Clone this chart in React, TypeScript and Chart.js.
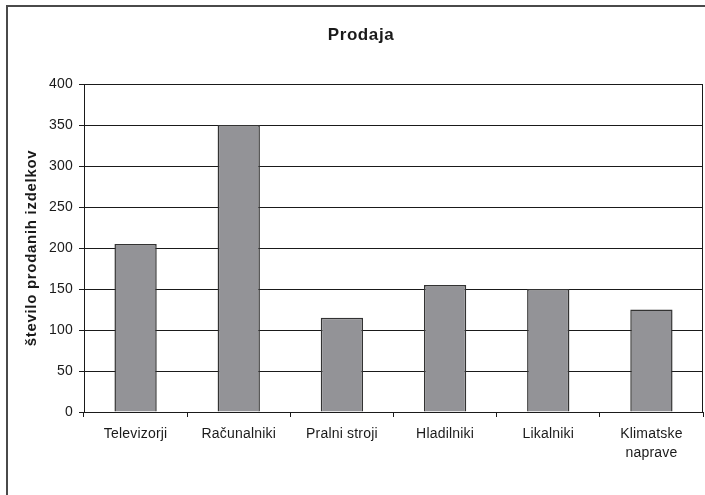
import React, { useEffect, useRef } from "react";
import { Chart, registerables } from "chart.js";

Chart.register(...registerables);

const categories: (string | string[])[] = [
  "Televizorji",
  "Računalniki",
  "Pralni stroji",
  "Hladilniki",
  "Likalniki",
  ["Klimatske", "naprave"],
];
const sales: number[] = [205, 350, 115, 155, 150, 125];
const yTicks: number[] = [0, 50, 100, 150, 200, 250, 300, 350, 400];
const chartTitle = "Prodaja";
const yTitle = "število prodanih izdelkov";

const FONT = "'Liberation Sans', Arial, Helvetica, sans-serif";

const spacingPlugin = {
  id: "spacing",
  beforeLayout(chart: any) {
    chart.ctx.letterSpacing = "0.2px";
  },
  beforeDraw(chart: any) {
    chart.ctx.letterSpacing = "0.2px";
  },
};

const decorPlugin = {
  id: "decor",
  beforeDraw(chart: any) {
    const ctx = chart.ctx;
    ctx.save();
    ctx.fillStyle = "#ffffff";
    ctx.fillRect(0, 0, chart.width, chart.height);
    ctx.strokeStyle = "#4a4a4a";
    ctx.lineWidth = 2;
    ctx.strokeRect(7, 6, chart.width + 20, chart.height + 20);
    ctx.restore();
  },
  afterDraw(chart: any) {
    const ctx = chart.ctx;
    const a = chart.chartArea;
    ctx.save();
    // right border of plot area
    ctx.strokeStyle = "#1a1a1a";
    ctx.lineWidth = 1;
    ctx.beginPath();
    ctx.moveTo(Math.round(a.right) - 0.5, a.top);
    ctx.lineTo(Math.round(a.right) - 0.5, a.bottom);
    ctx.stroke();
    // title
    ctx.fillStyle = "#1a1a1a";
    ctx.font = `bold 17px ${FONT}`;
    ctx.letterSpacing = "0.6px";
    ctx.textAlign = "center";
    ctx.textBaseline = "alphabetic";
    ctx.fillText(chartTitle, 361, 40);
    // y axis title
    ctx.font = `bold 15px ${FONT}`;
    ctx.letterSpacing = "0.7px";
    ctx.translate(32, (a.top + a.bottom) / 2);
    ctx.rotate(-Math.PI / 2);
    ctx.textAlign = "center";
    ctx.textBaseline = "middle";
    ctx.fillText(yTitle, 0, 0);
    ctx.restore();
  },
};

export default function App() {
  const ref = useRef<HTMLCanvasElement | null>(null);

  useEffect(() => {
    if (!ref.current) return;
    Chart.defaults.font.family = FONT;
    Chart.defaults.font.size = 14;
    Chart.defaults.color = "#1a1a1a";
    const chart = new Chart(ref.current, {
      type: "bar",
      data: {
        labels: categories,
        datasets: [
          {
            data: sales,
            backgroundColor: "#939397",
            borderColor: "#333333",
            borderWidth: 1.5,
            categoryPercentage: 1,
            barPercentage: 0.41,
          },
        ],
      },
      options: {
        responsive: false,
        animation: false,
        layout: { padding: { top: 84, right: 2, left: 0, bottom: 0 } },
        plugins: {
          legend: { display: false },
          title: { display: false },
          tooltip: { enabled: false },
        },
        scales: {
          x: {
            grid: {
              display: true,
              drawOnChartArea: false,
              drawTicks: true,
              tickLength: 5,
              color: "#1a1a1a",
              offset: true,
            },
            border: { display: true, color: "#1a1a1a", width: 1 },
            ticks: {
              padding: 7,
              maxRotation: 0,
              autoSkip: false,
              font: { size: 14, lineHeight: 1.4 },
              color: "#1a1a1a",
            },
            afterFit(scale: any) {
              scale.height = 83;
            },
          },
          y: {
            min: 0,
            max: 400,
            afterBuildTicks(scale: any) {
              scale.ticks = yTicks.map((v) => ({ value: v }));
            },
            grid: {
              color: "#1a1a1a",
              lineWidth: 1,
              drawTicks: true,
              tickLength: 5,
            },
            border: { display: true, color: "#1a1a1a", width: 1 },
            ticks: {
              padding: 6,
              font: { size: 14 },
              color: "#1a1a1a",
            },
            afterFit(scale: any) {
              scale.width = 84;
            },
          },
        },
      },
      plugins: [spacingPlugin, decorPlugin],
    });
    return () => chart.destroy();
  }, []);

  return (
    <div style={{ position: "absolute", left: 0, top: 0, width: 705, height: 495 }}>
      <canvas ref={ref} width={705} height={495} style={{ display: "block" }} />
    </div>
  );
}
